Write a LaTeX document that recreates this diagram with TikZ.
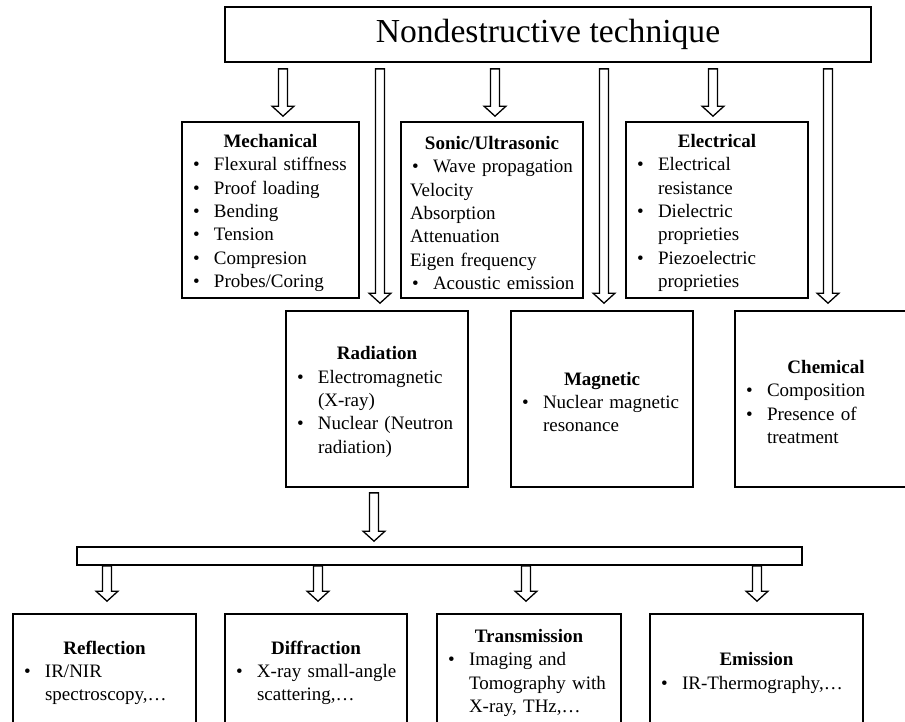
\documentclass[tikz,border=0pt]{standalone}
\usepackage{fontspec}
\setmainfont{Liberation Serif}
\usetikzlibrary{calc}
\newcommand\ndbox[1]{\vbox{\kern6pt#1}}
\newcommand\ndtitle[1]{\hbox to\hsize{\hss\textbf{#1}\hss}}
\newcommand\ndbul[1]{\hbox to\hsize{\hspace*{2pt}\makebox[21pt][l]{•}#1\hss}}
\newcommand\ndcont[1]{\hbox to\hsize{\hspace*{23pt}#1\hss}}
\newcommand\ndplain[1]{\hbox to\hsize{#1\hss}}
\newcommand\barrow[2]{\draw[blk] let \p1=#1, \p2=#2 in
  (\x1-4.5pt,\y1) -- (\x1-4.5pt,\y2+10pt) -- (\x1-11pt,\y2+10pt) -- (\x1,\y2)
  -- (\x1+11pt,\y2+10pt) -- (\x1+4.5pt,\y2+10pt) -- (\x1+4.5pt,\y1) -- cycle;}
\begin{document}
\begin{tikzpicture}[x=1pt,y=-1pt,
  box/.style={draw, line width=1.7pt, inner ysep=0pt, inner xsep=9pt,
    font=\fontsize{19}{23.3}\selectfont},
  blk/.style={draw, line width=1.3pt, fill=white, line join=miter}]
\useasboundingbox (0,0) rectangle (905,721);
% top
\node[draw, line width=1.7pt, minimum width=646pt, minimum height=55pt, inner sep=0pt,
  font=\fontsize{33.6}{40}\selectfont] (top) at (548,34.5) {Nondestructive technique};
% first row
\node[box, text width=159pt, minimum height=176pt] (mech) at (270.5,210) {\ndbox{%
  \ndtitle{Mechanical}\ndbul{Flexural stiffness}\ndbul{Proof loading}\ndbul{Bending}%
  \ndbul{Tension}\ndbul{Compresion}\ndbul{Probes/Coring}}};
\node[box, text width=164pt, minimum height=176pt] (sonic) at (492,210) {\ndbox{%
  \ndtitle{Sonic/Ultrasonic}\ndbul{Wave propagation}\ndplain{Velocity}\ndplain{Absorption}%
  \ndplain{Attenuation}\ndplain{Eigen frequency}\ndbul{Acoustic emission}}};
\node[box, text width=164pt, minimum height=176pt] (elec) at (717,210) {\ndbox{%
  \ndtitle{Electrical}\ndbul{Electrical}\ndcont{resistance}\ndbul{Dielectric}%
  \ndcont{proprieties}\ndbul{Piezoelectric}\ndcont{proprieties}}};
% second row
\node[box, text width=164pt, minimum height=176pt] (rad) at (377,399) {\ndbox{%
  \ndtitle{Radiation}\ndbul{Electromagnetic}\ndcont{(X-ray)}\ndbul{Nuclear (Neutron}%
  \ndcont{radiation)}}};
\node[box, text width=164pt, minimum height=176pt] (mag) at (602,399) {\ndbox{%
  \ndtitle{Magnetic}\ndbul{Nuclear magnetic}\ndcont{resonance}}};
\node[box, text width=164pt, minimum height=176pt] (chem) at (826,399) {\ndbox{%
  \ndtitle{Chemical}\ndbul{Composition}\ndbul{Presence of}\ndcont{treatment}}};
% bar
\node[draw, line width=1.7pt, minimum width=725pt, minimum height=18pt, inner sep=0pt] (bar) at (439.5,556) {};
% bottom row
\node[box, text width=165pt, minimum height=112pt] (refl) at (104.5,670) {\ndbox{%
  \ndtitle{Reflection}\ndbul{IR/NIR}\ndcont{spectroscopy,…}}};
\node[box, text width=164pt, minimum height=112pt] (diff) at (316,670) {\ndbox{%
  \ndtitle{Diffraction}\ndbul{X-ray small-angle}\ndcont{scattering,…}}};
\node[box, text width=166pt, minimum height=112pt] (trans) at (529,670) {\ndbox{%
  \ndtitle{Transmission}\ndbul{Imaging and}\ndcont{Tomography with}\ndcont{X-ray, THz,…}}};
\node[box, text width=195pt, minimum height=112pt] (emis) at (756.5,670) {\ndbox{%
  \ndtitle{Emission}\ndbul{IR-Thermography,…}}};
% arrow x positions
\coordinate (am) at (283,0);
\coordinate (as) at (495,0);
\coordinate (ae) at (713,0);
\coordinate (lr) at (380,0);
\coordinate (lm) at (604,0);
\coordinate (lc) at (828,0);
\coordinate (rb) at (374,0);
\coordinate (b1) at (107,0);
\coordinate (b2) at (318,0);
\coordinate (b3) at (526,0);
\coordinate (b4) at (757,0);
% arrows
\barrow{($(top.south -| am)+(0,6)$)}{($(mech.north -| am)+(0,-5)$)}
\barrow{($(top.south -| as)+(0,6)$)}{($(sonic.north -| as)+(0,-5)$)}
\barrow{($(top.south -| ae)+(0,6)$)}{($(elec.north -| ae)+(0,-5)$)}
\barrow{($(top.south -| lr)+(0,6)$)}{($(rad.north -| lr)+(0,-7)$)}
\barrow{($(top.south -| lm)+(0,6)$)}{($(mag.north -| lm)+(0,-7)$)}
\barrow{($(top.south -| lc)+(0,6)$)}{($(chem.north -| lc)+(0,-7)$)}
\barrow{($(rad.south -| rb)+(0,5)$)}{($(bar.north -| rb)+(0,-5)$)}
\barrow{(bar.south -| b1)}{($(refl.north -| b1)+(0,-12)$)}
\barrow{(bar.south -| b2)}{($(diff.north -| b2)+(0,-12)$)}
\barrow{(bar.south -| b3)}{($(trans.north -| b3)+(0,-12)$)}
\barrow{(bar.south -| b4)}{($(emis.north -| b4)+(0,-12)$)}
\end{tikzpicture}
\end{document}
